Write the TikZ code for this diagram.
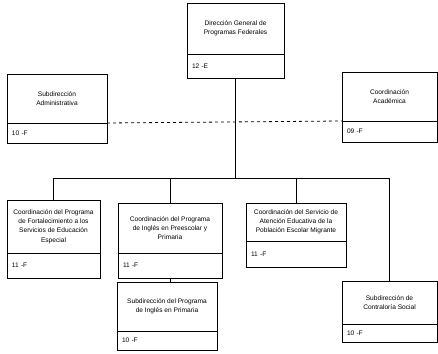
\documentclass[tikz,border=0pt]{standalone}
\usepackage{fontspec}
\setmainfont{Liberation Sans}
\usetikzlibrary{positioning}

\begin{document}
\begin{tikzpicture}[x=1pt, y=-1pt,
    unitbox/.style 2 args={rectangle, draw=black, line width=0.8pt, fill=white, minimum width=#1, minimum height=#2, inner sep=1pt, outer sep=0pt, align=center, anchor=north west, font=\fontsize{6.6}{9.2}\selectfont},
    codebox/.style 2 args={rectangle, draw=black, line width=0.8pt, fill=white, text width=#1, minimum height=#2, inner xsep=5pt, inner ysep=0pt, outer sep=0pt, align=left, anchor=north, font=\fontsize{6.6}{9.2}\selectfont},
    wire/.style={line width=0.8pt}
]
\useasboundingbox (0,0) rectangle (438,353);

% Direccion general
\node[unitbox={97}{51}] (dg) at (187,3) {Dirección General de\\Programas Federales};
\node[codebox={87}{24}] (dgc) at (dg.south) {12 -E};

% Staff units
\node[unitbox={100}{49}] (adm) at (7,74) {Subdirección\\Administrativa};
\node[codebox={90}{20}] (admc) at (adm.south) {10 -F};

\node[unitbox={95}{49}] (aca) at (342,72) {Coordinación\\Académica};
\node[codebox={85}{21}] (acac) at (aca.south) {09 -F};

% Line units
\node[unitbox={93}{53}] (fort) at (7,200) {Coordinación del Programa\\de Fortalecimiento a los\\Servicios de Educación\\Especial};
\node[codebox={83}{25}] (fortc) at (fort.south) {11 -F};

\node[unitbox={104}{50}] (ing) at (118,203) {Coordinación del Programa\\de Inglés en Preescolar y\\Primaria};
\node[codebox={94}{25}] (ingc) at (ing.south) {11 -F};

\node[unitbox={100}{38}] (mig) at (246,203) {Coordinación del Servicio de\\Atención Educativa de la\\Población Escolar Migrante};
\node[codebox={90}{26}] (migc) at (mig.south) {11 -F};

\node[unitbox={100}{49}] (pri) at (117,282) {Subdirección del Programa\\de Inglés en Primaria};
\node[codebox={90}{19}] (pric) at (pri.south) {10 -F};

\node[unitbox={95}{43}] (con) at (342,281) {Subdirección de\\Contraloría Social};
\node[codebox={85}{18}] (conc) at (con.south) {10 -F};

% Connectors
\coordinate (bus) at (236,178);
\draw[wire] (dgc.south) -- (dgc.south |- bus);
\draw[wire] (fort.north) |- (bus);
\draw[wire] (ing.north) |- (bus);
\draw[wire] (mig.north) |- (bus);
\draw[wire] (con.north) |- (bus);
\draw[wire] (ingc.south) -- (ingc.south |- pri.north);
\draw[wire, dashed] (admc.north east) -- (acac.north west);

\end{tikzpicture}
\end{document}
